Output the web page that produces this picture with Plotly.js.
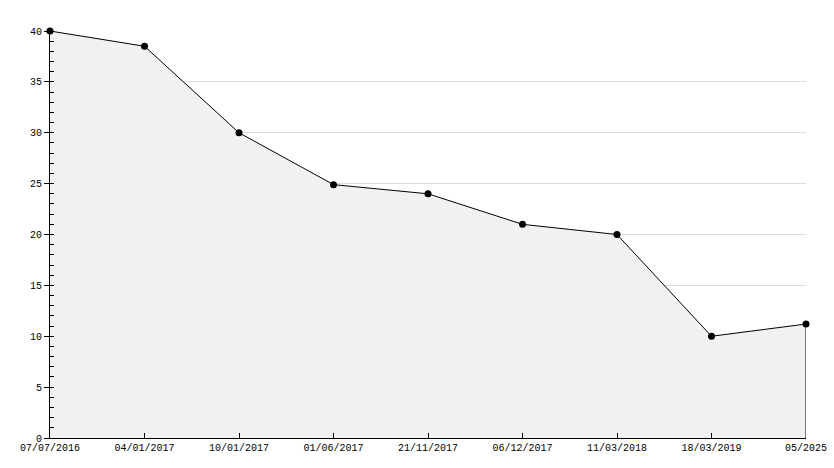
<!DOCTYPE html>
<html>
<head>
<meta charset="utf-8">
<script src="https://cdn.plot.ly/plotly-3.0.1.min.js"></script>
<style>html,body{margin:0;padding:0;background:#fff;}#chart{width:834px;height:468px;}</style>
</head>
<body>
<div id="chart"></div>
<script>
const dates = ["07/07/2016","04/01/2017","10/01/2017","01/06/2017","21/11/2017","06/12/2017","11/03/2018","18/03/2019","05/2025"];
const values = [40, 38.5, 30, 24.9, 24, 21, 20, 10, 11.2];

const lastX = dates[dates.length - 1];
const lastY = values[values.length - 1];

const font = {family: "Liberation Mono, DejaVu Sans Mono, monospace", size: 10, color: "#000"};

const traces = [
  {
    x: dates, y: values, type: "scatter", mode: "lines+markers",
    fill: "tozeroy", fillcolor: "#f1f1f1",
    line: {color: "#000", width: 1},
    marker: {color: "#000", size: 7, symbol: "circle"},
    cliponaxis: false, hoverinfo: "skip"
  },
  {
    x: [lastX, lastX], y: [0, lastY], type: "scatter", mode: "lines",
    line: {color: "#000", width: 1}, hoverinfo: "skip", cliponaxis: false
  },
  {
    x: [dates[0]], y: [values[0]], type: "scatter", mode: "none",
    yaxis: "y2", hoverinfo: "skip"
  }
];

const layout = {
  width: 834, height: 468,
  margin: {l: 50, r: 28, t: 31, b: 30, pad: 0},
  paper_bgcolor: "#fff", plot_bgcolor: "#fff",
  showlegend: false, font: font,
  xaxis: {
    type: "category", range: [0, dates.length - 1],
    showgrid: false, zeroline: false,
    showline: true, linecolor: "#000", linewidth: 1,
    ticks: "inside", ticklen: 5, tickcolor: "#000",
    tickfont: font, fixedrange: true
  },
  yaxis: {
    range: [0, 40], dtick: 5, tick0: 0,
    showgrid: true, gridcolor: "#dcdcdc", gridwidth: 1,
    zeroline: false,
    showline: true, linecolor: "#000", linewidth: 1,
    ticks: "outside", ticklen: 5, tickcolor: "#000",
    tickfont: font, fixedrange: true
  },
  yaxis2: {
    overlaying: "y", side: "left", range: [0, 40], dtick: 1, tick0: 0,
    showgrid: false, zeroline: false, showline: false,
    ticks: "inside", ticklen: 4, tickcolor: "#000", tickwidth: 1,
    showticklabels: false, fixedrange: true
  }
};

Plotly.newPlot("chart", traces, layout, {displayModeBar: false, staticPlot: true});
</script>
</body>
</html>
